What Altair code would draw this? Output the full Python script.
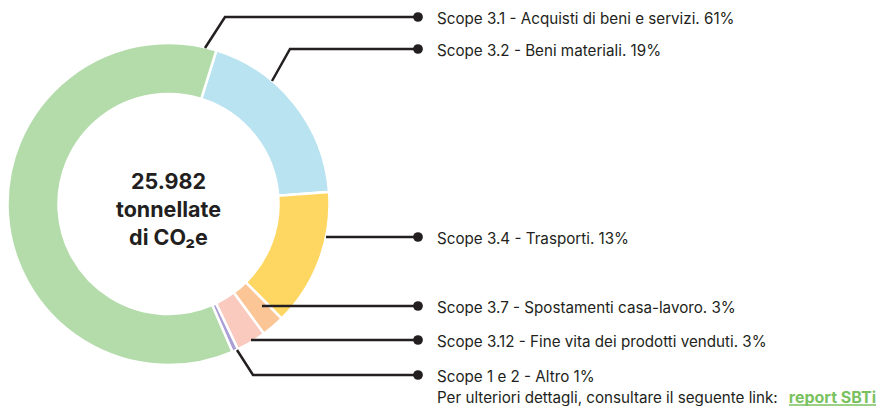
import altair as alt
import pandas as pd

# ---- data ----
categories = [
    "Scope 3.2 - Beni materiali. 19%",
    "Scope 3.4 - Trasporti. 13%",
    "Scope 3.7 - Spostamenti casa-lavoro. 3%",
    "Scope 3.12 - Fine vita dei prodotti venduti. 3%",
    "Scope 1 e 2 - Altro 1%",
    "Scope 3.1 - Acquisti di beni e servizi. 61%",
]
# slice sizes (percent of the ring)
values = [19, 13.8, 2.3, 3, 0.6, 61.3]
colors = ["#b9e3f0", "#fed762", "#fbc596", "#f9cabd", "#a99fd6", "#b4dcab"]

# label list (top to bottom) and their y positions in chart space
label_texts = [
    "Scope 3.1 - Acquisti di beni e servizi. 61%",
    "Scope 3.2 - Beni materiali. 19%",
    "Scope 3.4 - Trasporti. 13%",
    "Scope 3.7 - Spostamenti casa-lavoro. 3%",
    "Scope 3.12 - Fine vita dei prodotti venduti. 3%",
    "Scope 1 e 2 - Altro 1%",
]
label_y = [17, 49, 237, 306, 340, 375]
label_x = 437
dot_x = 418

# leader line paths (anchor on ring -> elbow -> dot), in chart space
leader_x = [[205, 225, dot_x], [272, 290, dot_x], [326, dot_x], [262, dot_x], [251, dot_x], [237, 253, dot_x]]
leader_y = [[48, 17, 17], [81, 49, 49], [237, 237], [306, 306], [340, 340], [350, 375, 375]]

center_x, center_y = 168.5, 204
center_lines = ["25.982", "tonnellate", "di CO₂e"]
center_line_y = [183, 211, 239]

footer_text = "Per ulteriori dettagli, consultare il seguente link:"
link_text = "report SBTi"
footer_y = 398
link_right = 876
link_left = 789

W, H = 879, 406
xs = alt.Scale(domain=[0, W])
ys = alt.Scale(domain=[0, H], reverse=True)

# ---- tables ----
pie_df = pd.DataFrame({
    "cat": categories, "value": values, "idx": list(range(len(values))),
    "cx": [center_x] * len(values), "cy": [center_y] * len(values),
})
lines_rows = []
for i, (lx, ly) in enumerate(zip(leader_x, leader_y)):
    for j, (px, py) in enumerate(zip(lx, ly)):
        lines_rows.append({"g": i, "o": j, "x": px, "y": py})
lines_df = pd.DataFrame(lines_rows)
dots_df = pd.DataFrame({"x": [dot_x] * len(label_y), "y": label_y})
labels_df = pd.DataFrame({"t": label_texts, "x": [label_x] * len(label_y), "y": label_y})
center_df = pd.DataFrame({"t": center_lines, "x": [center_x] * 3, "y": center_line_y})
footer_df = pd.DataFrame({"t": [footer_text], "x": [label_x], "y": [footer_y]})
link_df = pd.DataFrame({"t": [link_text], "x": [link_right], "y": [footer_y]})
underline_df = pd.DataFrame({"x": [link_left], "x2": [link_right], "y": [footer_y + 7]})

offset = 0.302
ax = dict(axis=None)
TWO_PI = 6.283185307
FONT = "Inter"
DARK = "#231f20"
GREEN = "#7ac25f"

arc = alt.Chart(pie_df).transform_window(
    end="sum(value)", sort=[alt.SortField("idx")]
).transform_calculate(
    start="datum.end - datum.value"
).mark_arc(innerRadius=110, outerRadius=161, stroke="white", strokeWidth=2.5).encode(
    theta=alt.Theta("start:Q", scale=alt.Scale(domain=[0, 100], range=[offset, offset + TWO_PI])),
    theta2="end:Q",
    color=alt.Color("cat:N", scale=alt.Scale(domain=categories, range=colors), legend=None),
    x=alt.X("cx:Q", scale=xs, **ax),
    y=alt.Y("cy:Q", scale=ys, **ax),
)

lines = alt.Chart(lines_df).mark_line(color=DARK, strokeWidth=2.5).encode(
    x=alt.X("x:Q", scale=xs, **ax),
    y=alt.Y("y:Q", scale=ys, **ax),
    detail="g:N",
    order="o:Q",
)
dots = alt.Chart(dots_df).mark_circle(color=DARK, size=95, opacity=1).encode(
    x=alt.X("x:Q", scale=xs, **ax), y=alt.Y("y:Q", scale=ys, **ax)
)
labels = alt.Chart(labels_df).mark_text(
    align="left", baseline="middle", font=FONT, fontSize=15.2, color=DARK, dy=2
).encode(x=alt.X("x:Q", scale=xs, **ax), y=alt.Y("y:Q", scale=ys, **ax), text="t:N")
center = alt.Chart(center_df).mark_text(
    align="center", baseline="middle", font=FONT, fontSize=21.5, fontWeight="bold", color=DARK
).encode(x=alt.X("x:Q", scale=xs, **ax), y=alt.Y("y:Q", scale=ys, **ax), text="t:N")
footer = alt.Chart(footer_df).mark_text(
    align="left", baseline="middle", font=FONT, fontSize=15.2, color=DARK
).encode(x=alt.X("x:Q", scale=xs, **ax), y=alt.Y("y:Q", scale=ys, **ax), text="t:N")
link = alt.Chart(link_df).mark_text(
    align="right", baseline="middle", font=FONT, fontSize=16, fontWeight="bold", color=GREEN
).encode(x=alt.X("x:Q", scale=xs, **ax), y=alt.Y("y:Q", scale=ys, **ax), text="t:N")
underline = alt.Chart(underline_df).mark_rule(color=GREEN, strokeWidth=1.5).encode(
    x=alt.X("x:Q", scale=xs, **ax), x2="x2:Q", y=alt.Y("y:Q", scale=ys, **ax)
)

chart = alt.layer(arc, lines, dots, labels, center, footer, link, underline).properties(
    width=W, height=H, padding=0, autosize=alt.AutoSizeParams(type="none"),
    background="white",
).configure_view(stroke=None)

chart.save("out.html", embed_options={"renderer": "svg", "actions": False})
